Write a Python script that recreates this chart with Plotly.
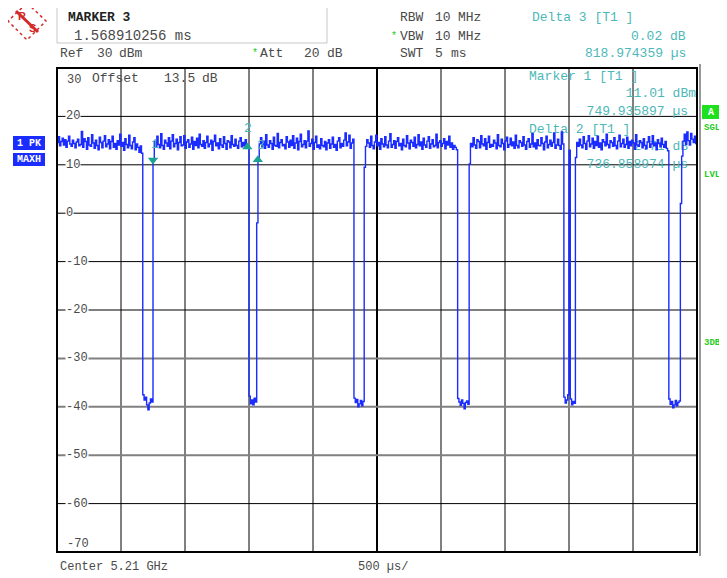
import plotly.graph_objects as go

# ---------------- data ----------------
SWEEP_STEP_US = 10.0          # sweep point spacing, 501 points over 5 ms
X_SPAN_US = 5000.0
REF_LEVEL = 30
BOTTOM_LEVEL = -70

seg_a = [14.6, 15.8, 13.9, 14.8, 15.5, 14.1, 15.2, 13.6, 14.9, 15.9,
         14.3, 13.8, 15.1, 14.4, 13.5, 14.7, 15.3, 13.9, 14.2, 16.9,
         13.6, 15.4, 14.8, 13.2, 15.6, 14.1, 13.8, 16.2, 14.5, 13.4,
         15.1, 14.0, 13.1, 15.7, 14.6, 13.5, 14.9, 16.0, 13.7, 14.3,
         15.2, 13.3, 14.8, 15.9, 13.6, 14.4, 13.2, 15.0, 14.1, 16.3,
         13.8, 14.6, 13.0, 15.4, 14.2, 13.5, 16.1, 14.0, 13.3, 14.7,
         15.6, 13.1, 14.3, 13.6, 12.6, 13.9, 12.4]
gap_1 = [-37.5, -38.6, -38.0, -39.6, -40.6, -39.2, -38.4, -39.0]
seg_b = [11.0, 14.8, 13.6, 15.9, 14.2, 13.5, 16.4, 14.0, 13.2, 15.1,
         14.5, 13.8, 15.6, 13.3, 14.9, 16.2, 13.7, 14.4, 15.3, 13.1,
         14.6, 15.8, 13.9, 14.1, 16.0, 13.4, 14.7, 15.2, 13.6, 14.3,
         15.7, 13.2, 14.8, 14.0, 15.5, 13.5, 16.3, 14.2, 13.8, 15.0,
         13.4, 14.6, 15.9, 13.7, 14.3, 15.1, 13.0, 14.8, 16.1, 13.9,
         14.5, 13.3, 15.4, 14.1, 13.6, 15.8, 14.4, 13.2, 15.0, 14.7,
         13.5, 16.0, 14.2, 13.8, 15.3, 14.0, 13.4, 14.9, 15.6, 13.7,
         14.6, 13.9, 15.2, 13.8, 13.6]
gap_2 = [-37.8, -39.4, -38.6, -39.6, -38.2, -39.0, -2.0]
seg_c = [11.0, 14.3, 15.6, 13.7, 14.9, 13.4, 16.2, 14.1, 13.6, 15.0,
         14.4, 13.2, 15.7, 14.0, 13.8, 16.5, 13.5, 14.6, 15.2, 13.9,
         14.2, 13.3, 15.8, 14.7, 13.6, 15.1, 14.0, 16.0, 13.4, 14.5,
         15.5, 13.1, 14.8, 16.3, 13.7, 14.2, 15.0, 13.5, 14.9, 17.0,
         13.8, 14.4, 15.3, 13.2, 14.6, 15.9, 13.6, 14.1, 13.3, 15.4,
         14.0, 13.7, 14.8, 13.1, 14.5, 15.2, 13.4, 14.3, 15.7, 13.6,
         14.2, 13.0, 14.9, 15.6, 13.5, 14.4, 13.8, 15.1, 16.6, 13.9,
         14.7, 16.1, 13.4, 14.5, 15.3]
gap_3 = [-38.2, -39.1, -38.5, -40.0, -39.4, -38.7, -39.8, -38.9]
seg_d = [9.5, 13.8, 15.2, 14.5, 13.6, 15.9, 14.0, 13.3, 14.7, 16.1,
         13.9, 14.6, 13.2, 15.4, 14.3, 13.7, 15.8, 14.1, 13.5, 14.9,
         16.4, 13.6, 14.2, 15.0, 13.4, 14.8, 15.6, 13.9, 14.4, 13.1,
         15.3, 14.0, 13.7, 16.0, 14.5, 13.3, 15.1, 14.6, 13.8, 15.7,
         13.5, 14.2, 16.2, 13.9, 14.7, 13.2, 15.5, 14.1, 13.6, 14.9,
         15.8, 13.4, 14.3, 15.2, 13.7, 14.0, 16.3, 13.5, 14.6, 15.0,
         13.8, 14.4, 15.4, 13.3, 14.8, 14.1, 15.9, 13.6, 14.5, 13.2,
         14.0, 13.6, 13.1]
gap_4 = [-38.3, -39.0, -39.7, -38.6, -39.3, -40.4, -39.1, -38.8, -39.5]
seg_e = [10.2, 14.4, 13.7, 15.6, 14.1, 13.4, 15.2, 14.8, 13.5, 16.0,
         14.3, 13.9, 15.4, 13.2, 14.6, 15.9, 13.6, 14.2, 13.8, 15.1,
         14.5, 13.3, 16.2, 14.0, 13.7, 15.3, 14.4, 13.1, 14.9, 15.7,
         13.6, 14.2, 15.5, 13.9, 14.7, 13.4, 16.1, 14.0, 13.5, 15.0,
         14.6, 13.8, 15.8, 14.1, 13.2, 14.8, 15.4, 13.6, 14.3, 16.4,
         13.7, 14.5, 13.3, 15.2, 14.0, 13.9, 15.6, 14.4, 13.1, 14.7,
         15.9, 13.5, 14.2, 15.1, 13.8, 14.6, 16.6, 13.4, 14.1, 15.3,
         14.0, 13.2, 16.8, 14.3]
gap_5 = [-38.0, -39.2, -38.6, -37.5, 13.0, -38.4, -39.6, -38.9, -39.3]
seg_f = [11.5, 14.6, 13.8, 15.3, 14.1, 13.5, 15.8, 14.4, 13.2, 14.9,
         16.0, 13.7, 14.3, 15.5, 13.4, 14.8, 14.0, 15.9, 13.6, 14.5,
         13.1, 15.2, 14.7, 13.9, 16.3, 14.2, 13.5, 15.0, 14.6, 13.8,
         15.6, 14.0, 13.3, 14.9, 16.1, 13.7, 14.4, 15.3, 13.6, 14.2,
         15.7, 13.4, 14.8, 13.9, 15.1, 14.5, 13.2, 16.2, 14.1, 13.8,
         15.0, 14.6, 13.5, 15.4, 14.0, 13.3, 14.7, 15.8, 13.6, 14.3,
         16.0, 13.9, 14.5, 13.1, 15.2, 14.4, 13.7, 15.5, 14.2, 13.6,
         14.8, 13.4, 12.9]
gap_6 = [-38.4, -39.5, -38.9, -40.2, -39.6, -38.7, -39.8, -39.1, -38.8]
seg_g = [2.0, 11.8, 14.9, 16.3, 14.2, 16.8, 15.0, 14.1, 16.5, 15.3,
         14.6, 15.9, 14.4, 15.2]

level_dbm = (seg_a + gap_1 + seg_b + gap_2 + seg_c + gap_3 + seg_d + gap_4
             + seg_e + gap_5 + seg_f + gap_6 + seg_g)
time_us = [i * SWEEP_STEP_US for i in range(len(level_dbm))]

# markers
marker_names = ["1", "2", "3"]
marker_time_us = [749.935897, 1486.794871, 1568.910256]
marker_level = [11.01, 13.7, 11.03]
marker_symbol = ["triangle-down", "triangle-up", "triangle-up"]

y_ticks = [30, 20, 10, 0, -10, -20, -30, -40, -50, -60, -70]
x_grid_us = [500, 1000, 1500, 2000, 2500, 3000, 3500, 4000, 4500]

# ---------------- layout helpers ----------------
# page coordinates of the window (the page body adds an 8 px margin)
BODY = 8
L, R, T, B = 57, 697, 68, 552          # plot area on the page
PAGE_RIGHT, PAGE_BOTTOM = 719, 578     # visible page extent
FIG_W, FIG_H = PAGE_RIGHT - BODY, PAGE_BOTTOM - BODY
MONO = "Liberation Mono, Courier New, monospace"
GRAY = "#4a4a4a"
TEAL = "#4db8b8"
GREEN = "#22cc22"
BLUE = "#1a2cff"


def px(xp):
    return (xp - L) / (R - L)


def py(yp):
    return (B - yp) / (B - T)


def dx(xp):
    return (xp - L) / (R - L) * X_SPAN_US


def dy(yp):
    return REF_LEVEL - (yp - T) / (B - T) * (REF_LEVEL - BOTTOM_LEVEL)


annotations = []


def ann(xp, yp, text, color=GRAY, size=13, anchor="left", bold=False, bg=None,
        family=MONO):
    a = dict(x=px(xp), y=py(yp), xref="paper", yref="paper", text=text,
             showarrow=False, xanchor=anchor, yanchor="middle",
             font=dict(family=family, size=size, color=color,
                       weight="bold" if bold else "normal"))
    if bg:
        a["bgcolor"] = bg
        a["borderpad"] = 0
    annotations.append(a)


fig = go.Figure()


# in-plot texts drawn beneath the trace
def text_trace(xp, yp, text, color, pos="middle right", size=13):
    fig.add_trace(go.Scatter(x=[dx(xp)], y=[dy(yp)], mode="text", text=[text],
                             textposition=pos,
                             textfont=dict(family=MONO, size=size, color=color),
                             hoverinfo="skip", showlegend=False))


text_trace(92, 79, "Offset", GRAY)
text_trace(164, 79, "13.5", GRAY)
text_trace(202, 79, "dB", GRAY)
text_trace(529, 77, "Marker 1 [T1 ]", TEAL)
text_trace(696, 94, "11.01 dBm", TEAL, pos="middle left")
text_trace(688, 112, "749.935897 µs", TEAL, pos="middle left")
text_trace(529, 130, "Delta 2 [T1 ]", TEAL)
text_trace(688, 147, "2.71 dB", TEAL, pos="middle left")
text_trace(688, 165, "736.858974 µs", TEAL, pos="middle left")

# main trace
fig.add_trace(go.Scatter(x=time_us, y=level_dbm, mode="lines",
                         line=dict(color=BLUE, width=1.4, shape="hv"),
                         hoverinfo="skip", showlegend=False))

# markers
fig.add_trace(go.Scatter(x=marker_time_us, y=marker_level, mode="markers",
                         marker=dict(symbol=marker_symbol, size=9,
                                     color="#1aa394"),
                         hoverinfo="skip", showlegend=False))
for name, xp, yp in zip(marker_names, [155, 248, 261], [144, 129, 145]):
    ann(xp, yp, name, color=TEAL, size=13, anchor="center")

shapes = []
# grid
for i, t in enumerate(x_grid_us):
    dark = (i % 2 == 0)
    shapes.append(dict(type="line", xref="x", yref="paper", x0=t, x1=t, y0=0,
                       y1=1, layer="below",
                       line=dict(color="#000" if dark else "#808080",
                                 width=(2 if t == 2500 else 1) if dark else 2)))
for v in y_ticks[1:-1]:
    col = "#000" if v >= -20 or v == -60 else "#808080"
    shapes.append(dict(type="line", xref="paper", yref="y", x0=0, x1=1, y0=v,
                       y1=v, layer="below",
                       line=dict(color=col, width=1 if col == "#000" else 2)))
# frame
shapes.append(dict(type="rect", xref="paper", yref="paper", x0=0, x1=1, y0=0,
                   y1=1, line=dict(color="#000", width=2)))
shapes.append(dict(type="line", xref="paper", yref="paper", x0=px(700),
                   x1=px(700), y0=py(556), y1=py(64),
                   line=dict(color="#777", width=1.5)))

# header box
shapes.append(dict(type="rect", xref="paper", yref="paper", x0=px(57),
                   x1=px(327), y0=py(43), y1=py(7),
                   line=dict(color="#c8c8c8", width=1)))
# R&S logo
shapes.append(dict(type="path", xref="paper", yref="paper",
                   path="M {} {} L {} {} L {} {} L {} {} Z".format(
                       px(27), py(3), px(46), py(21), px(27), py(40), px(8),
                       py(21)),
                   line=dict(color="#d42a2a", width=1.5, dash="dot")))
shapes.append(dict(type="line", xref="paper", yref="paper", x0=px(16),
                   y0=py(11), x1=px(38), y1=py(32),
                   line=dict(color="#d42a2a", width=3)))
ann(22, 16, "R", color="#d42a2a", size=11, anchor="center", bold=True,
    family="Liberation Sans, Arial")
ann(32, 28, "S", color="#d42a2a", size=11, anchor="center", bold=True,
    family="Liberation Sans, Arial")

# side boxes
for y0, y1, txt in [(136, 150, "1 PK"), (153, 166, "MAXH")]:
    shapes.append(dict(type="rect", xref="paper", yref="paper", x0=px(13),
                       x1=px(45), y0=py(y1), y1=py(y0), fillcolor=BLUE,
                       line=dict(width=0)))
    ann(29, (y0 + y1) / 2, txt, color="white", size=10, anchor="center",
        bold=True)
shapes.append(dict(type="rect", xref="paper", yref="paper", x0=px(702),
                   x1=px(719), y0=py(119), y1=py(105), fillcolor="#1ee01e",
                   line=dict(width=0)))
ann(710.5, 112, "A", color="white", size=10, anchor="center", bold=True)
for yp, txt in [(128, "SGL"), (175, "LVL"), (343, "3DB")]:
    ann(702, yp, txt, color=GREEN, size=9, bold=True)

# header texts
ann(66, 17, "MARKER 3", color="#222", size=13, bold=True)
ann(72, 36, "1.568910256\u00a0ms", size=14)
ann(58, 53, "Ref", size=13)
ann(95, 53, "30", size=13)
ann(117, 53, "dBm", size=13)
ann(250, 53, "*", color=GREEN, size=10)
ann(258, 53, "Att", size=13)
ann(302, 53, "20", size=13)
ann(325, 53, "dB", size=13)
ann(398, 17, "RBW", size=13)
ann(433, 17, "10", size=13)
ann(456, 17, "MHz", size=13)
ann(389, 36, "*", color=GREEN, size=10)
ann(398, 36, "VBW", size=13)
ann(433, 36, "10", size=13)
ann(456, 36, "MHz", size=13)
ann(398, 53, "SWT", size=13)
ann(433, 53, "5", size=13)
ann(449, 53, "ms", size=13)
ann(530, 17, "Delta 3 [T1 ]", color=TEAL, size=13)
ann(688, 36, "0.02 dB", color=TEAL, size=13, anchor="right")
ann(688, 53, "818.974359 µs", color=TEAL, size=13, anchor="right")

# y tick labels
for v in y_ticks:
    yp = T + (REF_LEVEL - v) / (REF_LEVEL - BOTTOM_LEVEL) * (B - T)
    if v == 30:
        yp = 80
    elif v == -70:
        yp = 544
    ann(65, yp, str(v), color=GRAY, size=12,
        bg="white" if -70 < v < 30 else None)

# bottom labels
ann(58, 567, "Center 5.21 GHz", size=12)
ann(356, 567, "500 µs/", size=12)

fig.update_layout(
    width=FIG_W, height=FIG_H,
    margin=dict(l=L - BODY, r=PAGE_RIGHT - R, t=T - BODY,
                b=PAGE_BOTTOM - B),
    paper_bgcolor="white", plot_bgcolor="white",
    xaxis=dict(range=[0, X_SPAN_US], showgrid=False, zeroline=False,
               showticklabels=False, ticks="", showline=False),
    yaxis=dict(range=[BOTTOM_LEVEL, REF_LEVEL], showgrid=False,
               zeroline=False, showticklabels=False, ticks="",
               showline=False),
    shapes=shapes, annotations=annotations, showlegend=False,
)

fig.write_html("out.html")
